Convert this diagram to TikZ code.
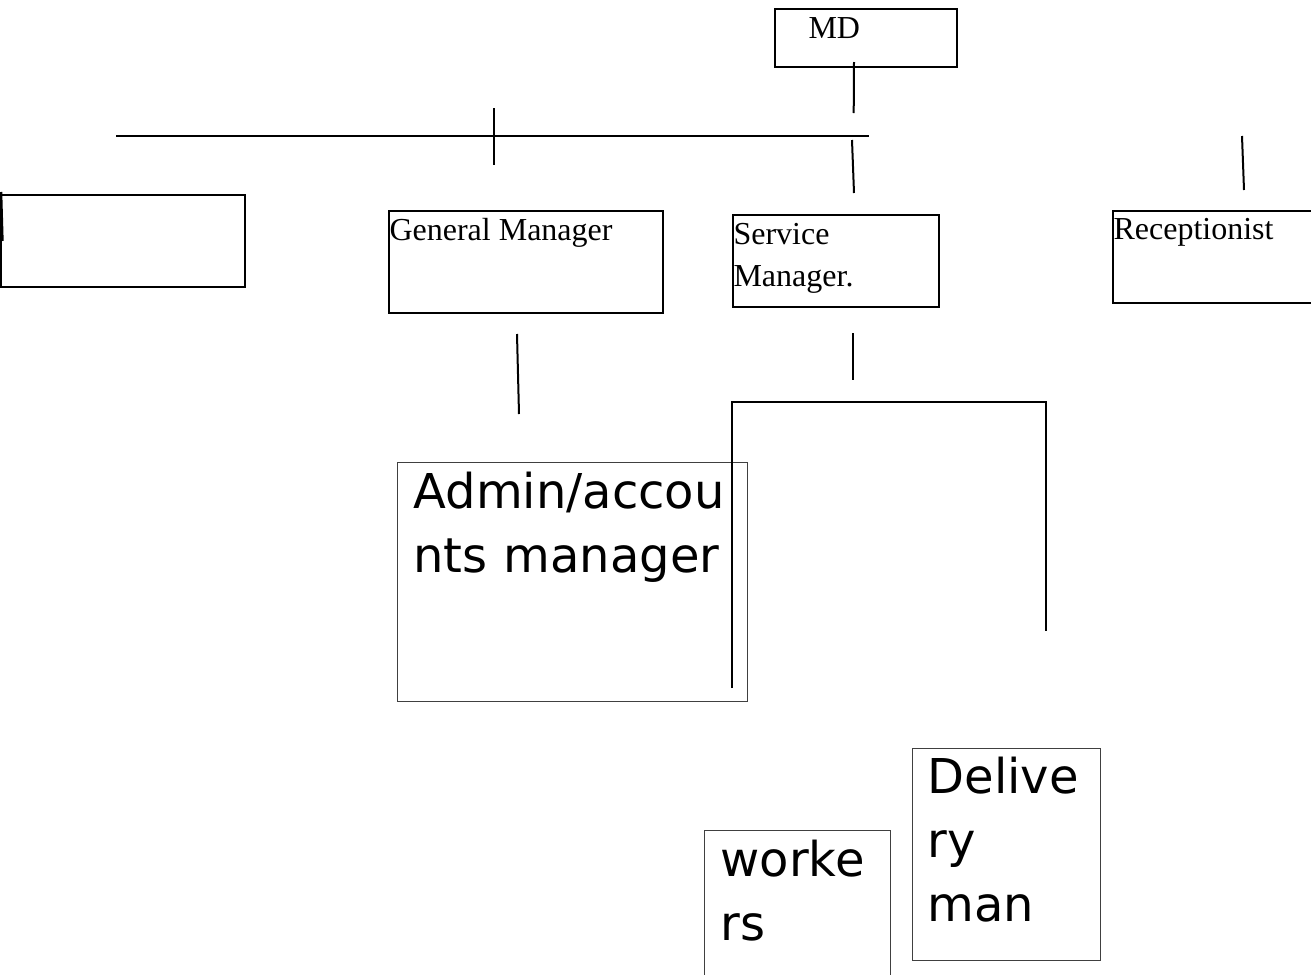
\documentclass[tikz,border=0pt]{standalone}
\usepackage{fontspec}
\setmainfont{Liberation Serif}
\newfontfamily\dvsans{DejaVu Sans}
\usepackage{tikz}
\newlength\pxl
\setlength\pxl{0.375pt}

\begin{document}
\begin{tikzpicture}[x=0.375pt,y=-0.375pt,
    post/.style={draw,rectangle,line width=0.75pt,anchor=north west,inner sep=0pt},
    bigpost/.style={post,line width=0.45pt,draw=black!75},
    tm/.style={anchor=base west,inner sep=0pt,font=\fontsize{12}{15.75}\selectfont},
    dv/.style={anchor=base west,inner sep=0pt,align=left,font=\dvsans\fontsize{18}{24}\selectfont},
    link/.style={line width=0.75pt}]
  \useasboundingbox (0,0) rectangle (1311,975);
  \clip (0,0) rectangle (1311,975);
  % MD
  \node[post,minimum width=182\pxl,minimum height=58\pxl,
    label={[tm,xshift=34\pxl,yshift=-30\pxl]north west:MD}] (md) at (774,8) {};
  % Second row
  \node[post,minimum width=244\pxl,minimum height=92\pxl] (blank) at (0,194) {};
  \node[post,minimum width=274\pxl,minimum height=102\pxl,
    label={[tm,xshift=1\pxl,yshift=-30\pxl]north west:General Manager}] (gm) at (388,210) {};
  \node[post,minimum width=206\pxl,minimum height=92\pxl,
    label={[tm,align=left,text width=200\pxl,xshift=1\pxl,yshift=-30\pxl]north west:Service\\Manager.}] (sm) at (732,214) {};
  \node[post,minimum width=230\pxl,minimum height=92\pxl,
    label={[tm,xshift=1\pxl,yshift=-29\pxl]north west:Receptionist}] (rec) at (1112,210) {};
  % Third row
  \node[bigpost,minimum width=350\pxl,minimum height=239\pxl,
    label={[dv,text width=330\pxl,xshift=16\pxl,yshift=-46\pxl]north west:Admin/accou\\nts manager}] (adm) at (397,462) {};
  \node[bigpost,minimum width=186\pxl,minimum height=170\pxl,
    label={[dv,text width=170\pxl,xshift=16\pxl,yshift=-46\pxl]north west:worke\\rs}] (wrk) at (704,830) {};
  \node[bigpost,minimum width=188\pxl,minimum height=212\pxl,
    label={[dv,text width=170\pxl,xshift=15\pxl,yshift=-45\pxl]north west:Delive\\ry\\man}] (dlv) at (912,748) {};

  % Connector ends
  \coordinate (busL) at (116,136);
  \coordinate (busR) at (869,136);
  \coordinate (gmT) at (494,108);
  \coordinate (gmB) at (494,165);
  \coordinate (mdT) at (854,62);
  \coordinate (mdB) at (853.7,113);
  \coordinate (smT) at (852,140);
  \coordinate (smB) at (854,193);
  \coordinate (recT) at (1242,136);
  \coordinate (recB) at (1244,190);
  \coordinate (blT) at (0.8,192);
  \coordinate (blB) at (2.2,241);
  \coordinate (admT) at (517,334);
  \coordinate (admB) at (519,414);
  \coordinate (svT) at (853,333);
  \coordinate (svB) at (853,380);
  \coordinate (brA) at (732,688);
  \coordinate (brB) at (732,402);
  \coordinate (brC) at (1046,402);
  \coordinate (brD) at (1046,631);

  % Lines
  \draw[link] (busL) -- (busR);
  \draw[link] (gmT) -- (gmB);
  \draw[link] (mdT) -- (mdB);
  \draw[link] (smT) -- (smB);
  \draw[link] (recT) -- (recB);
  \draw[line width=1.1pt] (blT) -- (blB);
  \draw[link] (admT) -- (admB);
  \draw[link] (svT) -- (svB);
  \draw[link] (brA) -- (brB) -- (brC) -- (brD);
\end{tikzpicture}
\end{document}
